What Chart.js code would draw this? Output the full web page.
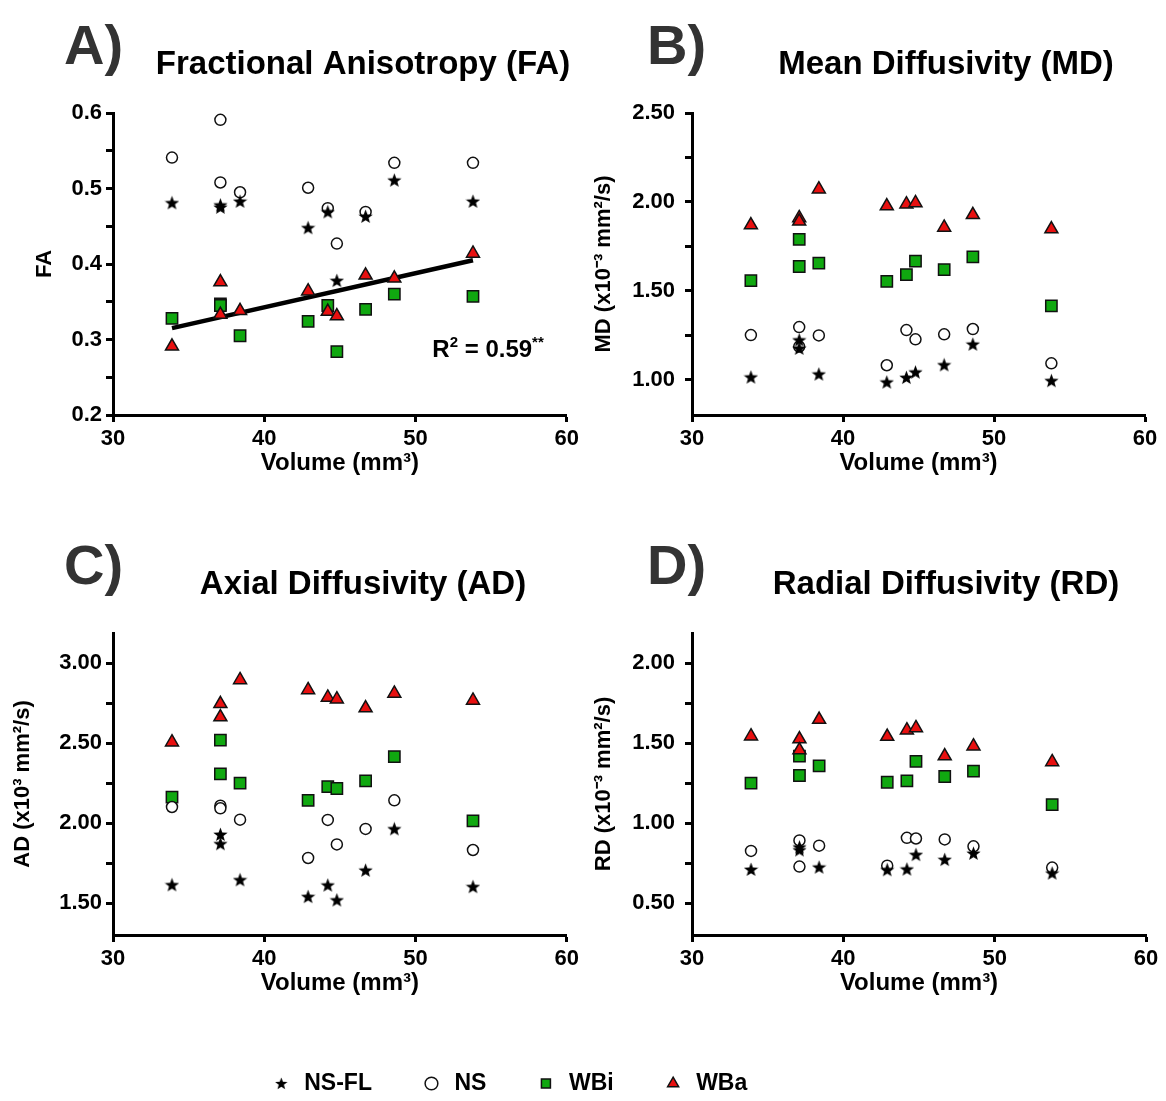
<!DOCTYPE html>
<html lang="en">
<head>
<meta charset="UTF-8" />
<title>DTI metrics vs volume</title>
<script src="https://cdn.jsdelivr.net/npm/chart.js@4.4.0/dist/chart.umd.min.js"></script>
<style>
  body { margin: 0; background: #fff; width: 1166px; height: 1101px; position: relative; overflow: hidden; }
  canvas { position: absolute; }
  #chartA { left: 0; top: 0; }
  #chartB { left: 583px; top: 0; }
  #chartC { left: 0; top: 520px; }
  #chartD { left: 583px; top: 520px; }
  #legend { left: 0; top: 1024px; }
</style>
</head>
<body>
<canvas id="chartA" width="583" height="490"></canvas>
<canvas id="chartB" width="583" height="490"></canvas>
<canvas id="chartC" width="583" height="490"></canvas>
<canvas id="chartD" width="583" height="490"></canvas>
<canvas id="legend" width="1017" height="240"></canvas>
<script>
  // volume of each subject (mm3), same order in every array below
  var volume = [33.9, 37.1, 37.1, 38.4, 42.9, 44.2, 44.8, 46.7, 48.6, 53.8];
  var groups = ["NS-FL", "NS", "WBi", "WBa"];

  var faNSFL = [0.481, 0.478, 0.475, 0.483, 0.448, 0.469, 0.378, 0.463, 0.511, 0.483];
  var faNS   = [0.541, 0.591, 0.508, 0.495, 0.501, 0.474, 0.427, 0.469, 0.534, 0.534];
  var faWBi  = [0.328, 0.347, 0.345, 0.305, 0.324, 0.345, 0.284, 0.340, 0.360, 0.357];
  var faWBa  = [0.291, 0.376, 0.333, 0.338, 0.364, 0.337, 0.331, 0.385, 0.381, 0.414];
  var faFitX = [33.9, 53.8];
  var faFitY = [0.315, 0.405];

  var mdNSFL = [1.013, 1.222, 1.175, 1.030, 0.985, 1.011, 1.041, 1.082, 1.198, 0.993];
  var mdNS   = [1.250, 1.295, 1.185, 1.248, 1.080, 1.278, 1.226, 1.254, 1.284, 1.091];
  var mdWBi  = [1.556, 1.789, 1.636, 1.655, 1.552, 1.590, 1.666, 1.618, 1.690, 1.414];
  var mdWBa  = [1.869, 1.909, 1.890, 2.071, 1.976, 1.987, 1.994, 1.856, 1.927, 1.847];

  var adNSFL = [1.614, 1.929, 1.871, 1.645, 1.540, 1.612, 1.519, 1.705, 1.964, 1.602];
  var adNS   = [2.101, 2.109, 2.093, 2.022, 1.782, 2.020, 1.867, 1.964, 2.143, 1.832];
  var adWBi  = [2.163, 2.519, 2.308, 2.250, 2.143, 2.229, 2.217, 2.265, 2.416, 2.014];
  var adWBa  = [2.507, 2.747, 2.664, 2.896, 2.834, 2.787, 2.776, 2.720, 2.812, 2.768];

  var rdNSFL = [0.710, 0.850, 0.832, 0.724, 0.708, 0.712, 0.803, 0.772, 0.811, 0.687];
  var rdNS   = [0.826, 0.892, 0.728, 0.859, 0.734, 0.908, 0.904, 0.898, 0.855, 0.722];
  var rdWBi  = [1.250, 1.420, 1.298, 1.358, 1.256, 1.265, 1.387, 1.292, 1.325, 1.116];
  var rdWBa  = [1.544, 1.526, 1.457, 1.648, 1.542, 1.582, 1.596, 1.420, 1.482, 1.383];

  // axis ticks: labelled and unlabelled
  var volTicks = [30, 40, 50, 60];
  var faMajor = [0.2, 0.3, 0.4, 0.5, 0.6];
  var faMinor = [0.25, 0.35, 0.45, 0.55];
  var mdMajor = [1.0, 1.5, 2.0, 2.5];
  var mdMinor = [1.25, 1.75, 2.25];
  var adMajor = [1.5, 2.0, 2.5, 3.0];
  var adMinor = [1.75, 2.25, 2.75];
  var rdMajor = [0.5, 1.0, 1.5, 2.0];
  var rdMinor = [0.75, 1.25, 1.75];

  var FONT = '"Liberation Sans", Arial, sans-serif';
  Chart.defaults.font.family = FONT;
  Chart.defaults.font.weight = "bold";
  Chart.defaults.color = "#000";

  function starImage(size) {
    var c = document.createElement("canvas");
    c.width = size;
    c.height = size;
    var g = c.getContext("2d");
    var r = size / 2;
    g.beginPath();
    for (var i = 0; i < 10; i++) {
      var a = -Math.PI / 2 + (i * Math.PI) / 5;
      var rr = i % 2 ? r * 0.42 : r;
      g.lineTo(r + rr * Math.cos(a), r + 0.5 + rr * Math.sin(a));
    }
    g.closePath();
    g.fillStyle = "#000";
    g.fill();
    return c;
  }

  var bigStar = starImage(15);
  var smallStar = starImage(13);

  function toPoints(vals) {
    return volume.map(function (v, i) {
      return { x: v, y: vals[i] };
    });
  }

  function groupSets(nsfl, ns, wbi, wba) {
    return [
      { label: groups[0], data: toPoints(nsfl), pointStyle: bigStar, order: 1 },
      { label: groups[1], data: toPoints(ns), pointStyle: "circle", pointRadius: 5.5,
        backgroundColor: "#fff", borderColor: "#111", borderWidth: 1.5, order: 2 },
      { label: groups[3], data: toPoints(wba), pointStyle: "triangle", pointRadius: 7.5,
        backgroundColor: "#e81010", borderColor: "#111", borderWidth: 1.5, order: 3 },
      { label: groups[2], data: toPoints(wbi), pointStyle: "rect", pointRadius: 8,
        backgroundColor: "#10a810", borderColor: "#111", borderWidth: 1.5, order: 4 },
    ];
  }

  // panel letter + title
  var panelText = {
    id: "panelText",
    afterDraw: function (chart, args, opts) {
      var ctx = chart.ctx;
      ctx.save();
      ctx.textBaseline = "alphabetic";
      ctx.fillStyle = "#333";
      ctx.font = "bold 56px " + FONT;
      ctx.textAlign = "left";
      ctx.fillText(opts.letter, 64, 64);
      ctx.fillStyle = "#000";
      ctx.font = "bold 33px " + FONT;
      ctx.textAlign = "center";
      ctx.fillText(opts.title, 363, 74);
      ctx.restore();
    },
  };

  var r2Label = {
    id: "r2Label",
    afterDatasetsDraw: function (chart) {
      var ctx = chart.ctx;
      var parts = [
        ["R", 24, 0], ["2", 15, -10], [" = 0.59", 24, 0], ["**", 15, -10],
      ];
      ctx.save();
      ctx.fillStyle = "#000";
      ctx.textBaseline = "alphabetic";
      ctx.textAlign = "left";
      var total = 0;
      parts.forEach(function (p) {
        ctx.font = "bold " + p[1] + "px " + FONT;
        total += ctx.measureText(p[0]).width;
      });
      var x = chart.chartArea.right - 23 - total;
      var y = 357;
      parts.forEach(function (p) {
        ctx.font = "bold " + p[1] + "px " + FONT;
        ctx.fillText(p[0], x, y + p[2]);
        x += ctx.measureText(p[0]).width;
      });
      ctx.restore();
    },
  };

  function axisLook() {
    return {
      grid: { display: true, drawOnChartArea: false, drawTicks: true, tickLength: 7, tickWidth: 3, tickColor: "#000" },
      border: { display: true, color: "#000", width: 3 },
    };
  }

  function makePanel(id, letter, title, yTitle, yMin, yMax, major, minor, dec, yWidth, yTitlePad, tickPad, rightPad, sets, extraPlugins) {
    var yAxis = axisLook();
    yAxis.type = "linear";
    yAxis.min = yMin;
    yAxis.max = yMax;
    yAxis.afterBuildTicks = function (scale) {
      scale.ticks = major.concat(minor).sort(function (a, b) { return a - b; })
        .map(function (v) { return { value: v }; });
    };
    yAxis.afterFit = function (scale) { scale.width = yWidth; };
    yAxis.ticks = {
      autoSkip: false,
      padding: tickPad,
      font: { size: 22, weight: "bold" },
      callback: function (v) { return major.indexOf(v) >= 0 ? v.toFixed(dec) : ""; },
    };
    yAxis.title = { display: true, text: yTitle, font: { size: 22, weight: "bold" }, padding: { top: yTitlePad, bottom: 0 } };

    var xAxis = axisLook();
    xAxis.type = "linear";
    xAxis.min = volTicks[0];
    xAxis.max = volTicks[volTicks.length - 1];
    xAxis.afterBuildTicks = function (scale) {
      scale.ticks = volTicks.map(function (v) { return { value: v }; });
    };
    xAxis.afterFit = function (scale) { scale.height = 65; };
    xAxis.ticks = { autoSkip: false, padding: 4, font: { size: 22, weight: "bold" } };
    xAxis.title = { display: true, text: "Volume (mm³)", font: { size: 24, weight: "bold" }, padding: { top: 0, bottom: 2 } };

    return new Chart(document.getElementById(id), {
      type: "scatter",
      data: { datasets: sets },
      options: {
        responsive: false,
        animation: false,
        devicePixelRatio: 1,
        layout: { padding: { top: 113, left: 0, right: rightPad, bottom: 10 } },
        scales: { x: xAxis, y: yAxis },
        plugins: {
          legend: { display: false },
          tooltip: { enabled: false },
          panelText: { letter: letter, title: title },
        },
      },
      plugins: [panelText].concat(extraPlugins || []),
    });
  }

  var faSets = groupSets(faNSFL, faNS, faWBi, faWBa);
  faSets.push({
    type: "line",
    label: "fit",
    data: faFitX.map(function (v, i) { return { x: v, y: faFitY[i] }; }),
    borderColor: "#000",
    borderWidth: 4.5,
    pointRadius: 0,
    order: 9,
  });

  makePanel("chartA", "A)", "Fractional Anisotropy (FA)", "FA", 0.2, 0.6, faMajor, faMinor, 1, 113, 32, 4, 15, faSets, [r2Label]);
  makePanel("chartB", "B)", "Mean Diffusivity (MD)", "MD (x10⁻³ mm²/s)", 0.8, 2.5, mdMajor, mdMinor, 2, 109, 8, 10, 21,
    groupSets(mdNSFL, mdNS, mdWBi, mdWBa));
  makePanel("chartC", "C)", "Axial Diffusivity (AD)", "AD (x10³ mm²/s)", 1.3, 3.19, adMajor, adMinor, 2, 113, 10, 4, 15,
    groupSets(adNSFL, adNS, adWBi, adWBa));
  makePanel("chartD", "D)", "Radial Diffusivity (RD)", "RD (x10⁻³ mm²/s)", 0.3, 2.19, rdMajor, rdMinor, 2, 109, 8, 10, 20,
    groupSets(rdNSFL, rdNS, rdWBi, rdWBa));

  // shared legend
  new Chart(document.getElementById("legend"), {
    type: "scatter",
    data: {
      datasets: [
        { label: groups[0], data: [], pointStyle: smallStar, borderWidth: 0 },
        { label: groups[1], data: [], pointStyle: "circle", backgroundColor: "#fff", borderColor: "#111", borderWidth: 1.5 },
        { label: groups[2], data: [], pointStyle: "rect", backgroundColor: "#10a810", borderColor: "#111", borderWidth: 1.5 },
        { label: groups[3], data: [], pointStyle: "triangle", backgroundColor: "#e81010", borderColor: "#111", borderWidth: 1.5 },
      ],
    },
    options: {
      responsive: false,
      animation: false,
      devicePixelRatio: 1,
      scales: { x: { display: false }, y: { display: false } },
      plugins: {
        tooltip: { enabled: false },
        legend: {
          display: true,
          position: "top",
          align: "center",
          labels: {
            usePointStyle: true,
            boxHeight: 9,
            padding: 48,
            color: "#000",
            font: { size: 23, weight: "bold" },
          },
        },
      },
    },
  });
</script>
</body>
</html>
